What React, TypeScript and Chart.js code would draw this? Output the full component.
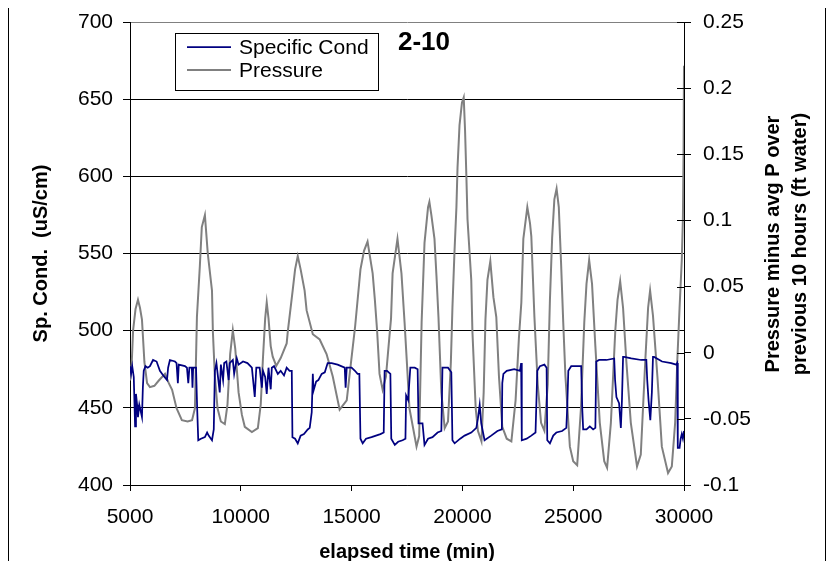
import React, { useEffect, useRef } from 'react';
import { Chart, registerables } from 'chart.js';

Chart.register(...registerables);

// ---- data ----
const xTickValues = [5000, 10000, 15000, 20000, 25000, 30000];
const condTickValues = [400, 450, 500, 550, 600, 650, 700];
const pressureTickValues = [-0.1, -0.05, 0, 0.05, 0.1, 0.15, 0.2, 0.25];

const seriesNames = ['Specific Cond', 'Pressure'];
const chartLabel = '2-10';
const xTitle = 'elapsed time (min)';
const leftTitle = 'Sp. Cond.  (uS/cm)';
const rightTitle = ['Pressure minus avg P over', 'previous 10 hours (ft water)'];

// [elapsed time (min), specific conductance (uS/cm)]
const specificCond: [number, number][] = [
  [5000, 477], [5050, 472], [5100, 477], [5170, 470], [5230, 438], [5270, 459], [5320, 452], [5360, 444],
  [5420, 452], [5480, 448], [5540, 444], [5580, 463], [5620, 474], [5700, 477], [5800, 476], [5900, 477],
  [6040, 481], [6200, 480], [6350, 474], [6500, 471], [6670, 468], [6720, 476], [6800, 481], [7030, 480],
  [7100, 479], [7160, 466], [7200, 478], [7480, 477], [7570, 476], [7630, 466], [7680, 476], [7790, 476],
  [7820, 463], [7850, 476], [7980, 476], [8030, 450], [8080, 429], [8200, 430], [8380, 431], [8480, 434],
  [8550, 432], [8700, 429], [8780, 436], [8830, 474], [8900, 479], [9050, 460], [9100, 478], [9200, 468],
  [9250, 479], [9350, 480], [9450, 468], [9500, 479], [9640, 481], [9700, 472], [9820, 482], [9900, 478],
  [10100, 480], [10300, 479], [10500, 476], [10630, 457], [10700, 476], [10850, 476], [10950, 463], [11000, 474],
  [11100, 470], [11170, 459], [11250, 476], [11350, 462], [11400, 476], [11500, 477], [11670, 472], [11800, 474],
  [11950, 471], [12070, 476], [12200, 474], [12300, 474], [12330, 431], [12450, 430], [12570, 427], [12700, 432],
  [12850, 433], [13020, 436], [13110, 437], [13200, 447], [13250, 472], [13280, 461], [13400, 467], [13500, 468],
  [13650, 472], [13790, 473], [13920, 479], [14100, 479], [14370, 478], [14690, 476], [14730, 463], [14780, 476],
  [15000, 476], [15150, 474], [15270, 472], [15350, 472], [15400, 430], [15500, 427], [15650, 430], [15900, 431],
  [16100, 432], [16300, 433], [16450, 434], [16490, 474], [16600, 474], [16750, 472], [16790, 430], [16950, 426],
  [17100, 428], [17300, 429], [17430, 430], [17460, 458], [17550, 455], [17650, 476], [17850, 476], [17980, 475],
  [18020, 440], [18200, 440], [18290, 426], [18450, 430], [18650, 431], [18880, 434], [19050, 435], [19100, 476],
  [19350, 476], [19500, 473], [19550, 429], [19650, 427], [19900, 430], [20100, 432], [20400, 434], [20630, 437],
  [20700, 443], [20780, 452], [20850, 440], [21000, 429], [21300, 432], [21580, 435], [21780, 436], [21800, 466],
  [21850, 472], [22000, 474], [22340, 475], [22600, 474], [22650, 479], [22680, 429], [22900, 430], [23110, 432],
  [23300, 434], [23380, 474], [23500, 477], [23700, 478], [23800, 476], [23830, 429], [23950, 427], [24100, 432],
  [24240, 434], [24500, 435], [24690, 437], [24730, 450], [24780, 474], [24910, 477], [25100, 477], [25360, 477],
  [25410, 449], [25450, 436], [25600, 436], [25750, 438], [25900, 436], [26000, 437], [26040, 480], [26170, 481],
  [26500, 481], [26850, 482], [26890, 468], [26950, 457], [27070, 453], [27150, 437], [27200, 455], [27250, 483],
  [27300, 483], [27620, 482], [28070, 481], [28300, 481], [28340, 468], [28400, 455], [28480, 442], [28550, 460],
  [28600, 483], [28650, 483], [29010, 480], [29420, 479], [29650, 478], [29690, 479], [29720, 424], [29800, 424],
  [29850, 430], [29900, 433], [29950, 430], [30000, 435],
];

// [elapsed time (min), pressure minus avg P over previous 10 hours (ft water)]
const pressure: [number, number][] = [
  [5000, -0.021], [5080, -0.007], [5140, 0.017], [5250, 0.033], [5360, 0.040], [5450, 0.034], [5540, 0.025],
  [5650, -0.007], [5770, -0.023], [5900, -0.026], [6100, -0.025], [6300, -0.021], [6580, -0.016], [6750, -0.023],
  [6900, -0.028], [7100, -0.042], [7340, -0.051], [7600, -0.052], [7800, -0.051], [7930, -0.042], [8020, 0.027],
  [8150, 0.065], [8240, 0.095], [8380, 0.104], [8510, 0.075], [8700, 0.047], [8740, 0.016], [8830, -0.018],
  [8950, -0.042], [9100, -0.052], [9280, -0.054], [9400, -0.039], [9520, -0.001], [9640, 0.017], [9750, 0.003],
  [9900, -0.030], [10050, -0.047], [10180, -0.056], [10500, -0.060], [10770, -0.057], [10900, -0.039], [11000, -0.004],
  [11100, 0.026], [11170, 0.038], [11250, 0.026], [11350, 0.005], [11440, -0.003], [11600, -0.010], [11800, -0.004],
  [12070, 0.007], [12120, 0.016], [12340, 0.047], [12450, 0.063], [12570, 0.073], [12700, 0.063], [12880, 0.047],
  [12970, 0.032], [13250, 0.014], [13560, 0.010], [13870, -0.001], [14150, -0.018], [14460, -0.043], [14780, -0.036],
  [14900, -0.018], [15160, 0.020], [15400, 0.063], [15560, 0.077], [15720, 0.084], [15950, 0.060], [16050, 0.040],
  [16150, 0.017], [16260, -0.016], [16400, -0.028], [16550, -0.018], [16700, 0.011], [16780, 0.026], [16850, 0.060],
  [17070, 0.086], [17250, 0.060], [17390, 0.023], [17500, -0.009], [17610, -0.042], [17930, -0.071], [18050, -0.063],
  [18160, 0.023], [18290, 0.083], [18450, 0.110], [18510, 0.114], [18600, 0.104], [18740, 0.086], [18830, 0.058],
  [18920, 0.027], [19050, -0.030], [19200, -0.057], [19350, -0.052], [19480, -0.007], [19550, 0.034], [19640, 0.075],
  [19730, 0.110], [19780, 0.140], [19870, 0.172], [19980, 0.189], [20060, 0.193], [20120, 0.168], [20180, 0.133],
  [20230, 0.101], [20400, 0.055], [20450, 0.017], [20600, -0.042], [20700, -0.059], [20860, -0.067], [20960, -0.030],
  [21040, 0.025], [21130, 0.055], [21260, 0.069], [21400, 0.042], [21530, 0.027], [21650, -0.018], [21800, -0.056],
  [22000, -0.065], [22210, -0.067], [22400, -0.036], [22550, 0.011], [22660, 0.038], [22750, 0.086], [22930, 0.110],
  [23050, 0.098], [23110, 0.088], [23250, 0.027], [23400, -0.024], [23550, -0.053], [23700, -0.059], [23850, -0.024],
  [23950, 0.040], [24050, 0.087], [24150, 0.116], [24250, 0.124], [24350, 0.110], [24450, 0.069], [24550, 0.023],
  [24650, -0.018], [24850, -0.071], [25000, -0.082], [25180, -0.085], [25350, -0.042], [25500, 0.023], [25600, 0.052],
  [25720, 0.070], [25850, 0.052], [26000, 0.005], [26200, -0.053], [26400, -0.082], [26530, -0.087], [26700, -0.053],
  [26900, 0.017], [27000, 0.040], [27120, 0.054], [27250, 0.034], [27400, -0.007], [27600, -0.053], [27880, -0.086],
  [28050, -0.077], [28250, -0.007], [28380, 0.034], [28470, 0.047], [28600, 0.028], [28800, -0.018], [29000, -0.071],
  [29280, -0.091], [29450, -0.086], [29600, -0.053], [29700, -0.005], [29800, 0.034], [29900, 0.070], [29950, 0.101],
  [29980, 0.151], [30000, 0.217],
];

const FONT = '"Liberation Sans", Arial, Helvetica, sans-serif';
const BLUE = '#000080';
const GRAY = '#808080';

export default function App() {
  const ref = useRef<HTMLCanvasElement>(null);

  useEffect(() => {
    document.documentElement.style.overflow = 'hidden';
    document.body.style.overflow = 'hidden';
    const canvas = ref.current;
    if (!canvas) return;

    const overlay = {
      id: 'overlay',
      afterDraw(chart: any) {
        const ctx = chart.ctx as CanvasRenderingContext2D;
        const y2 = chart.scales.y2;
        ctx.save();
        // inner half of the cross ticks on the right axis
        ctx.strokeStyle = '#000';
        ctx.lineWidth = 1;
        for (const t of y2.ticks) {
          const py = Math.round(y2.getPixelForValue(t.value)) + 0.5;
          ctx.beginPath();
          ctx.moveTo(y2.left - 7, py);
          ctx.lineTo(y2.left, py);
          ctx.stroke();
        }
        // legend
        ctx.fillStyle = '#fff';
        ctx.fillRect(166, 26, 203, 57);
        ctx.strokeStyle = '#000';
        ctx.lineWidth = 1;
        ctx.strokeRect(166.5, 26.5, 203, 57);
        const entries = [
          { name: seriesNames[0], color: BLUE, width: 1.75, y: 40, base: 46.5 },
          { name: seriesNames[1], color: GRAY, width: 2, y: 63, base: 69.8 },
        ];
        for (const e of entries) {
          ctx.strokeStyle = e.color;
          ctx.lineWidth = e.width;
          ctx.beginPath();
          ctx.moveTo(178, e.y);
          ctx.lineTo(222, e.y);
          ctx.stroke();
          ctx.fillStyle = '#000';
          ctx.font = `21px ${FONT}`;
          ctx.textAlign = 'left';
          ctx.textBaseline = 'alphabetic';
          ctx.fillText(e.name, 230, e.base);
        }
        // label "2-10"
        ctx.fillStyle = '#000';
        ctx.font = `bold 26px ${FONT}`;
        ctx.textAlign = 'left';
        ctx.textBaseline = 'alphabetic';
        ctx.fillText(chartLabel, 389, 42.5);
        // right axis title (two lines, reading bottom to top)
        ctx.font = `bold 20px ${FONT}`;
        ctx.textAlign = 'center';
        ctx.textBaseline = 'middle';
        const xs = [764, 791];
        rightTitle.forEach((line, i) => {
          ctx.save();
          ctx.translate(xs[i], 237);
          ctx.rotate(-Math.PI / 2);
          ctx.fillText(line, 0, 0);
          ctx.restore();
        });
        ctx.restore();
      },
    };

    const tickFont = { family: FONT, size: 21 };
    const titleFont = { family: FONT, size: 20, weight: 'bold' as const };

    const chart = new Chart(canvas, {
      type: 'line',
      data: {
        datasets: [
          {
            label: seriesNames[0],
            data: specificCond.map(([x, y]) => ({ x, y })),
            borderColor: BLUE,
            backgroundColor: BLUE,
            borderWidth: 1.75,
            pointRadius: 0,
            tension: 0,
            fill: false,
            yAxisID: 'y',
          },
          {
            label: seriesNames[1],
            data: pressure.map(([x, y]) => ({ x, y })),
            borderColor: GRAY,
            backgroundColor: GRAY,
            borderWidth: 2,
            pointRadius: 0,
            tension: 0,
            fill: false,
            yAxisID: 'y2',
          },
        ],
      },
      options: {
        responsive: false,
        animation: false,
        devicePixelRatio: 1,
        events: [],
        layout: { padding: { top: 15, left: 0, right: 0, bottom: 0 } },
        plugins: {
          legend: { display: false },
          tooltip: { enabled: false },
          title: { display: false },
        },
        scales: {
          x: {
            type: 'linear',
            position: 'bottom',
            min: 5000,
            max: 30000,
            afterBuildTicks: (s: any) => {
              s.ticks = xTickValues.map((v) => ({ value: v }));
            },
            afterFit: (s: any) => {
              s.height = 84;
              s.paddingLeft = 0;
              s.paddingRight = 0;
            },
            ticks: {
              color: '#000',
              font: tickFont,
              padding: 14,
              autoSkip: false,
              maxRotation: 0,
              callback: (v: any) => String(v),
            },
            grid: { drawOnChartArea: false, drawTicks: true, tickLength: 6, color: '#000', tickColor: '#000' },
            border: { display: true, color: '#000', width: 1 },
            title: {
              display: true,
              text: xTitle,
              color: '#000',
              font: titleFont,
              padding: { top: 0, bottom: 5 },
            },
          },
          y: {
            type: 'linear',
            position: 'left',
            min: 400,
            max: 700,
            afterBuildTicks: (s: any) => {
              s.ticks = condTickValues.map((v) => ({ value: v }));
            },
            afterFit: (s: any) => {
              s.width = 121;
              s.paddingTop = 0;
              s.paddingBottom = 0;
            },
            ticks: {
              color: '#000',
              font: tickFont,
              padding: 10,
              autoSkip: false,
              callback: (v: any) => String(v),
            },
            grid: {
              drawOnChartArea: true,
              drawTicks: true,
              tickLength: 7,
              color: (c: any) => (c.tick && c.tick.value === 700 ? GRAY : '#000'),
              tickColor: '#000',
              lineWidth: 1,
            },
            border: { display: true, color: '#000', width: 1 },
            title: {
              display: true,
              text: leftTitle,
              color: '#000',
              font: titleFont,
              padding: { top: 20, bottom: 0 },
            },
          },
          y2: {
            type: 'linear',
            position: 'right',
            min: -0.1,
            max: 0.25,
            afterBuildTicks: (s: any) => {
              s.ticks = pressureTickValues.map((v) => ({ value: v }));
            },
            afterFit: (s: any) => {
              s.width = 141;
              s.paddingTop = 0;
              s.paddingBottom = 0;
            },
            ticks: {
              color: '#000',
              font: tickFont,
              padding: 12,
              autoSkip: false,
              callback: (v: any) => String(Math.round(Number(v) * 100) / 100),
            },
            grid: { drawOnChartArea: false, drawTicks: true, tickLength: 7, color: '#000', tickColor: '#000' },
            border: { display: true, color: '#000', width: 1 },
            title: { display: false },
          },
        },
      } as any,
      plugins: [overlay],
    });

    return () => {
      chart.destroy();
    };
  }, []);

  return (
    <div style={{ position: 'relative', height: 553 }}>
      <div
        style={{
          position: 'absolute',
          left: 0,
          top: -2,
          width: 816,
          height: 562,
          borderTop: '1px solid #000',
          borderLeft: '1px solid #000',
          borderRight: '1px solid #000',
          background: '#fff',
        }}
      >
        <canvas ref={ref} width={816} height={562} style={{ display: 'block', width: 816, height: 562 }} />
      </div>
    </div>
  );
}
